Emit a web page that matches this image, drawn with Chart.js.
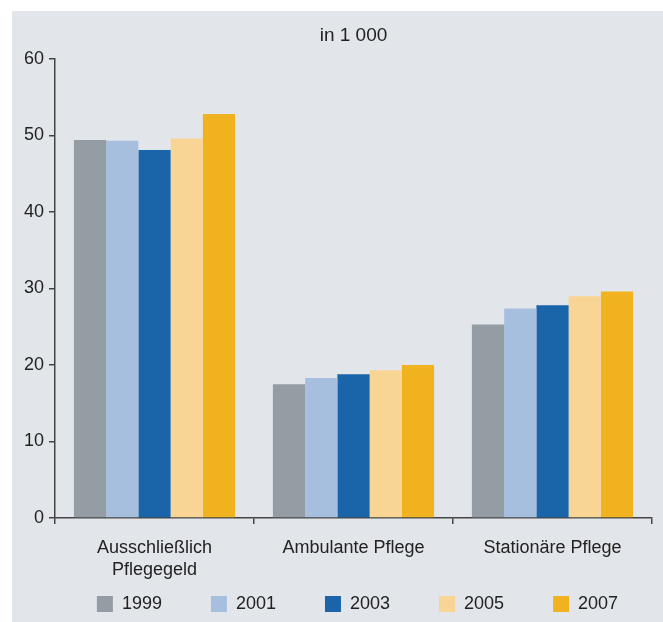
<!DOCTYPE html>
<html>
<head>
<meta charset="utf-8">
<script src="https://cdn.jsdelivr.net/npm/chart.js@4"></script>
<style>
  html, body { margin: 0; padding: 0; background: #ffffff; }
  #wrap { width: 663px; height: 622px; }
</style>
</head>
<body>
<div id="wrap"><canvas id="c" width="663" height="622"></canvas></div>
<script>
const categories = [["Ausschließlich", "Pflegegeld"], "Ambulante Pflege", "Stationäre Pflege"];
const years = ["1999", "2001", "2003", "2005", "2007"];
const values1999 = [49.4, 17.5, 25.3];
const values2001 = [49.3, 18.3, 27.4];
const values2003 = [48.1, 18.8, 27.8];
const values2005 = [49.6, 19.3, 29.0];
const values2007 = [52.8, 20.0, 29.6];
const yTicks = [0, 10, 20, 30, 40, 50, 60];
const titleText = "in 1 000";

const colors = ["#949da4", "#a7bfdf", "#1a65a9", "#f8d594", "#f0b31f"];
const seriesValues = [values1999, values2001, values2003, values2005, values2007];

const FONT = "'Liberation Sans', Arial, Helvetica, sans-serif";
const TEXT = "#222222";
const AXIS = "#444444";

const panelPlugin = {
  id: 'panel',
  beforeDraw(chart) {
    const ctx = chart.ctx;
    ctx.save();
    ctx.fillStyle = '#ffffff';
    ctx.fillRect(0, 0, chart.width, chart.height);
    ctx.fillStyle = '#e2e6ea';
    ctx.fillRect(12, 11, chart.width - 12, chart.height - 11);
    ctx.restore();
  }
};

// Legend takes no room in the layout; it is placed in the lower band afterwards.
const legendPlacePlugin = {
  id: 'legendPlace',
  beforeLayout(chart) {
    const lg = chart.legend;
    if (lg && !lg._patchedFit) {
      const orig = lg.fit.bind(lg);
      lg.fit = function () { orig(); this.height = 1; };
      lg._patchedFit = true;
    }
  },
  afterLayout(chart) {
    const lg = chart.legend;
    if (!lg) return;
    lg.top = 546;
    lg.bottom = 622;
    lg.height = 76;
    lg.left = 31.5;
    lg.right = 683.5;
    lg.width = 652;
  }
};

new Chart(document.getElementById('c'), {
  type: 'bar',
  data: {
    labels: categories,
    datasets: years.map((y, i) => ({
      label: y,
      data: seriesValues[i],
      backgroundColor: colors[i],
      borderWidth: 0,
      categoryPercentage: 0.81,
      barPercentage: 1.0
    }))
  },
  options: {
    responsive: false,
    animation: false,
    devicePixelRatio: 1,
    layout: { padding: { left: 0, right: 11, top: 0, bottom: 0 } },
    plugins: {
      title: {
        display: true,
        text: titleText,
        fullSize: false,
        color: TEXT,
        font: { family: FONT, size: 19, weight: 'normal', lineHeight: 1.2 },
        padding: { top: 24, bottom: 12.2 }
      },
      legend: {
        display: true,
        position: 'bottom',
        fullSize: true,
        labels: {
          boxWidth: 16,
          boxHeight: 16,
          padding: 49,
          color: TEXT,
          font: { family: FONT, size: 18 }
        }
      },
      tooltip: { enabled: false }
    },
    scales: {
      x: {
        grid: {
          display: true,
          drawOnChartArea: false,
          drawTicks: true,
          tickLength: 6,
          color: AXIS,
          lineWidth: 1.5,
          offset: true
        },
        border: { display: true, color: AXIS, width: 1.5 },
        ticks: {
          color: TEXT,
          padding: 13,
          maxRotation: 0,
          autoSkip: false,
          font: { family: FONT, size: 18, lineHeight: 1.22 }
        },
        afterFit(scale) { scale.height = 103; }
      },
      y: {
        min: 0,
        max: 60,
        afterBuildTicks(scale) { scale.ticks = yTicks.map(v => ({ value: v })); },
        grid: {
          display: true,
          drawOnChartArea: false,
          drawTicks: true,
          tickLength: 6,
          color: AXIS,
          lineWidth: 1.5
        },
        border: { display: true, color: AXIS, width: 1.5 },
        ticks: {
          color: TEXT,
          padding: 5,
          font: { family: FONT, size: 18 }
        },
        afterFit(scale) { scale.width = 55; }
      }
    }
  },
  plugins: [panelPlugin, legendPlacePlugin]
});
</script>
</body>
</html>
